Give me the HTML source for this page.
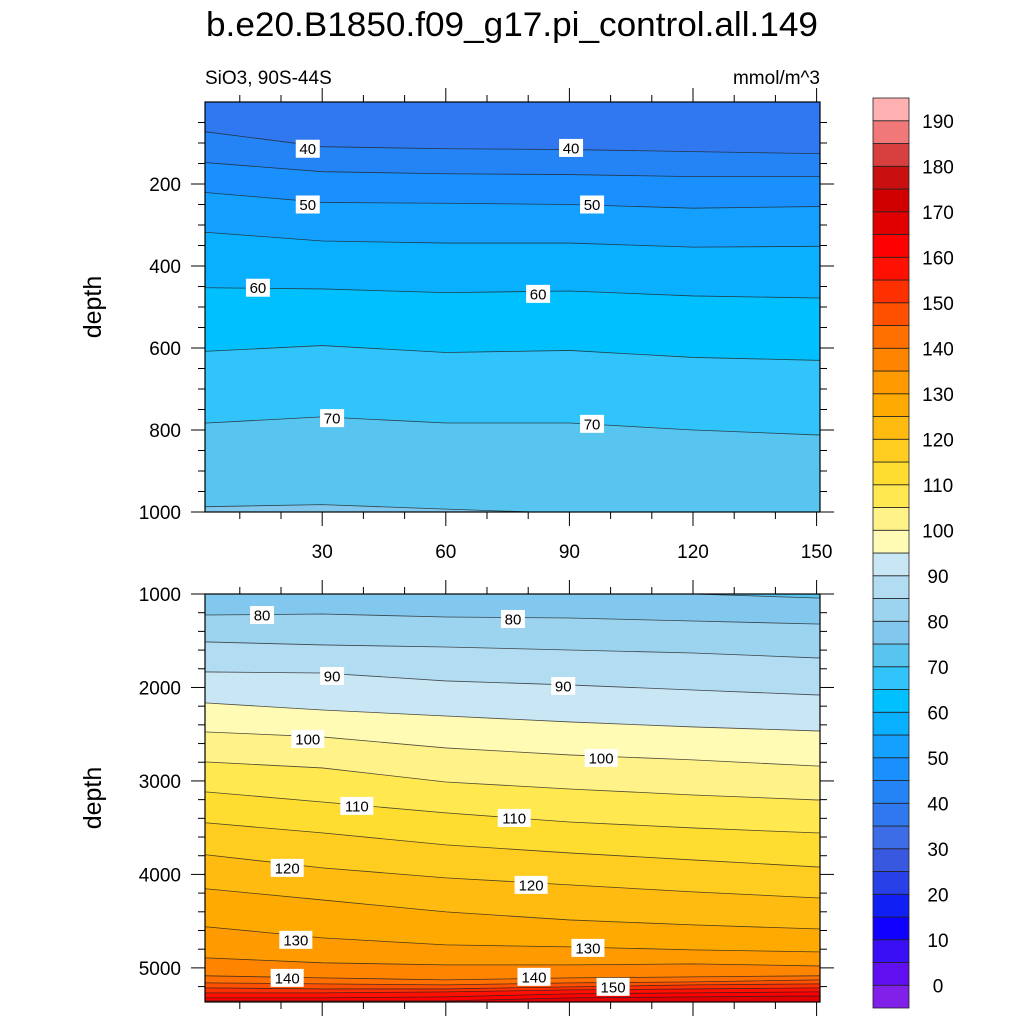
<!DOCTYPE html>
<html><head><meta charset="utf-8"><style>
body{margin:0;background:#fff;}
svg{display:block;font-family:"Liberation Sans",Arial,sans-serif;}
</style></head><body>
<svg id="fig" width="1024" height="1024" viewBox="0 0 1024 1024" xmlns="http://www.w3.org/2000/svg">
<text x="512" y="36" text-anchor="middle" font-size="34" textLength="612" lengthAdjust="spacingAndGlyphs">b.e20.B1850.f09_g17.pi_control.all.149</text>
<text x="205" y="84" font-size="19">SiO3, 90S-44S</text>
<text x="820" y="84" text-anchor="end" font-size="19">mmol/m^3</text>
<text transform="translate(101,307) rotate(-90)" text-anchor="middle" font-size="25">depth</text>
<text transform="translate(101,798) rotate(-90)" text-anchor="middle" font-size="25">depth</text>
<g id="top"></g>
<g id="bot"></g>
<g id="cbar"></g>
</svg>
<script>
const NS="http://www.w3.org/2000/svg";
const xCols=[2,30,60,90,120,150];
const topLevels=[40,45,50,55,60,65,70,75];
const topLines=[
[73,109,114,116,121,126],
[148,170,175,177,182,182],
[221,245,247,250,259,255],
[318,339,344,344,354,352],
[453,456,465,461,473,478],
[608,594,611,606,623,630],
[783,768,783,783,800,812],
[987,982,993,1003,1012,1015]];
const botLevels=[75,80,85,90,95,100,105,110,115,120,125,130,135,140,145,150,155,160,165];
const botLines=[
[979,979,979,989,1000,1043],
[1225,1214,1246,1257,1289,1321],
[1513,1545,1567,1599,1631,1684],
[1834,1845,1930,1973,2027,2080],
[2166,2241,2305,2369,2422,2465],
[2476,2529,2647,2722,2775,2840],
[2797,2861,3011,3086,3150,3203],
[3118,3225,3342,3439,3503,3556],
[3449,3556,3684,3770,3845,3920],
[3791,3930,4037,4112,4187,4251],
[4155,4273,4401,4487,4540,4583],
[4561,4679,4754,4775,4807,4829],
[4893,4946,4968,4968,4957,4979],
[5085,5107,5128,5107,5096,5085],
[5160,5171,5182,5160,5150,5128],
[5214,5225,5225,5203,5182,5171],
[5267,5267,5257,5235,5225,5214],
[5321,5321,5310,5278,5267,5257],
[5353,5353,5353,5321,5310,5300]];
const topLabels=[[40,26.5,114],[40,90.4,112],[50,26.5,250],[50,95.5,250],[60,14.4,453],[60,82.4,468],[70,32.4,771],[70,95.5,785]];
const botLabels=[[80,15.4,1225],[80,76.3,1267],[90,32.4,1877],[90,88.5,1984],[100,26.5,2551],[100,97.7,2754],[110,38.4,3267],[110,76.6,3396],[120,21.5,3930],[120,80.7,4112],[130,23.6,4700],[130,94.5,4786],[140,21.5,5107],[140,81.4,5096],[150,100.6,5203]];
const cbLevels=[0,5,10,15,20,25,30,35,40,45,50,55,60,65,70,75,80,85,90,95,100,105,110,115,120,125,130,135,140,145,150,155,160,165,170,175,180,185,190];
const cbColors=["#8020e8","#6010f0","#3a0ff5","#1000ff","#1020f5","#2840e8","#3858e0","#3c6ce6","#3078f0","#2484f5","#1a90ff","#14a0ff","#08b0ff","#00c0ff","#30c4fa","#58c4f0","#82c8ee","#9cd4f0","#b2dcf2","#c8e6f4","#fffab4","#fff288","#ffe850","#ffdc30","#ffcc20","#ffbb10","#ffaa00","#ff9a00","#ff8400","#ff7000","#ff5000","#ff3000","#ff1000","#ff0000","#e00000","#d00000","#c81010","#d84040","#f07878","#ffb0b0"];
const cbLabels=[0,10,20,30,40,50,60,70,80,90,100,110,120,130,140,150,160,170,180,190];

function colorFor(v){let i=0;while(i<cbLevels.length&&v>=cbLevels[i])i++;return cbColors[i];}
function el(tag,attrs,parent){const e=document.createElementNS(NS,tag);for(const k in attrs)e.setAttribute(k,attrs[k]);parent.appendChild(e);return e;}
const xPx=x=>198.6+x*4.12;
const L=205,R=820;

function panel(g,id,top,bottom,d0,d1,levels,lines,labels,majorY,minorY,showXLabels){
  const yPx=d=>top+(d-d0)*(bottom-top)/(d1-d0);
  const defs=el('defs',{},g);
  const cp=el('clipPath',{id:'clip'+id},defs);
  el('rect',{x:L,y:top,width:R-L,height:bottom-top},cp);
  const fg=el('g',{'clip-path':'url(#clip'+id+')'},g);
  const bg=el('rect',{x:L,y:top,width:R-L,height:bottom-top,fill:colorFor(levels[0]-1)},fg);
  
  
  levels.forEach((lv,i)=>{
    const pts=xCols.map((x,j)=>[xPx(x),yPx(lines[i][j])]);
    const ext=[[L-5,pts[0][1]],...pts,[R+5,pts[pts.length-1][1]]];
    const poly=ext.map(p=>p.join(',')).join(' ')+' '+(R+5)+','+(bottom+5)+' '+(L-5)+','+(bottom+5);
    const p=el('polygon',{points:poly,fill:colorFor(lv)},fg);
    
    
  });
  levels.forEach((lv,i)=>{
    const pts=xCols.map((x,j)=>[xPx(x),yPx(lines[i][j])]);
    const ext=[[L-5,pts[0][1]],...pts,[R+5,pts[pts.length-1][1]]];
    const pl=el('polyline',{points:ext.map(p=>p.join(',')).join(' '),fill:'none',stroke:'#222','stroke-width':0.8,'stroke-opacity':0.8},fg);
    
    
  });
  labels.forEach(lb=>{
    const cx=xPx(lb[1]),cy=yPx(lb[2]);
    const w=String(lb[0]).length*9+6;
    const r=el('rect',{x:cx-w/2,y:cy-9,width:w,height:18,fill:'#fff'},g);
    
    
    const t=el('text',{x:cx,y:cy+5.5,'text-anchor':'middle','font-size':15},g);
    t.textContent=lb[0];
    
    
  });
  const fr=el('rect',{x:L,y:top,width:R-L,height:bottom-top,fill:'none',stroke:'#000','stroke-width':1.2},g);
  
  
  for(let d=Math.ceil(d0/minorY)*minorY; d<=d1; d+=minorY){
    if(d===0) continue;
    const y=yPx(d);const maj=d%majorY===0;const len=maj?14:7;
    el('line',{x1:L-len,y1:y,x2:L,y2:y,stroke:'#000','stroke-width':1},g);
    el('line',{x1:R,y1:y,x2:R+len,y2:y,stroke:'#000','stroke-width':1},g);
    if(maj){const t=el('text',{x:L-24,y:y+7,'text-anchor':'end','font-size':19},g);t.textContent=d;
      
      }
  }
  for(let x=10;x<=150;x+=10){
    const px=xPx(x);const maj=x%30===0;const len=maj?14:7;
    el('line',{x1:px,y1:top-len,x2:px,y2:top,stroke:'#000','stroke-width':1},g);
    el('line',{x1:px,y1:bottom,x2:px,y2:bottom+len,stroke:'#000','stroke-width':1},g);
    if(maj&&showXLabels){const t=el('text',{x:px,y:bottom+46,'text-anchor':'middle','font-size':19},g);t.textContent=x;
      
      }
  }
}
panel(document.getElementById('top'),'t',102,512,0,1000,topLevels,topLines,topLabels,200,50,true);
panel(document.getElementById('bot'),'b',594,1002,1000,5365,botLevels,botLines,botLabels,1000,200,false);

const cb=document.getElementById('cbar');
const cbTop=98,cbBot=1008,n=cbColors.length,bh=(cbBot-cbTop)/n;
cbColors.forEach((c,i)=>{
  const r=el('rect',{x:873,y:cbBot-(i+1)*bh,width:36,height:bh,fill:c,stroke:'#222','stroke-width':0.8},cb);
  
  
});
cbLabels.forEach(v=>{
  const i=cbLevels.indexOf(v);
  const y=cbBot-(i+1)*bh;
  const t=el('text',{x:938,y:y+7,'text-anchor':'middle','font-size':19},cb);
  t.textContent=v;
  
  
});
</script>
</body></html>
